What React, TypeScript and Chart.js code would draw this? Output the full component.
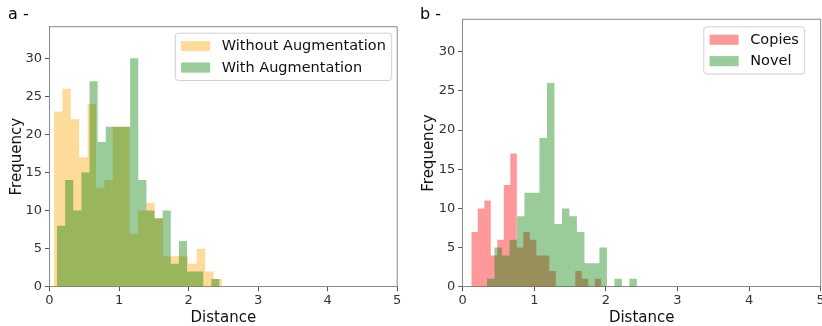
import React, { useEffect, useRef } from 'react';
import { Chart, registerables } from 'chart.js';

Chart.register(...registerables);
Chart.defaults.font.family = '"DejaVu Sans", sans-serif';

// ---------------- data ----------------
const distanceTicks = [0, 1, 2, 3, 4, 5];
const frequencyTicks = [0, 5, 10, 15, 20, 25, 30];

// Panel a
const withoutAugLabel = 'Without Augmentation';
const withoutAugBinStart = 0.065;
const withoutAugBinWidth = 0.1207;
const withoutAugCounts = [23, 26, 22, 17, 24, 13, 14, 21, 21, 7, 10, 11, 9, 4, 4, 4, 3, 5, 2, 1];

const withAugLabel = 'With Augmentation';
const withAugBinStart = 0.108;
const withAugBinWidth = 0.11685;
const withAugCounts = [8, 14, 10, 15, 27, 19, 21, 21, 21, 30, 14, 10, 9, 10, 3, 6, 2, 2, 0, 1];

// Panel b
const copiesLabel = 'Copies';
const copiesBinStart = 0.12;
const copiesBinWidth = 0.0908;
const copiesCounts = [7, 10, 11, 4, 6, 13, 17, 5, 7, 6, 4, 4, 2, 0, 0, 0, 2, 1, 0, 1];

const novelLabel = 'Novel';
const novelBinStart = 0.339;
const novelBinWidth = 0.1047;
const novelCounts = [1, 5, 4, 6, 9, 12, 12, 19, 26, 8, 10, 9, 7, 3, 3, 5, 0, 1, 0, 1];

// ---------------- helpers ----------------
function stepPoints(start: number, width: number, counts: number[]) {
  const pts = counts.map((c, i) => ({ x: start + i * width, y: c }));
  pts.push({ x: start + counts.length * width, y: counts[counts.length - 1] });
  return pts;
}

const decorPlugin = {
  id: 'decor',
  afterDraw(chart: any, _args: any, opts: any) {
    const { ctx, chartArea: a } = chart;
    ctx.save();
    // top & right spines
    ctx.strokeStyle = '#8a8a8a';
    ctx.lineWidth = 1;
    ctx.beginPath();
    ctx.moveTo(a.left, a.top);
    ctx.lineTo(a.right, a.top);
    ctx.lineTo(a.right, a.bottom);
    ctx.stroke();

    // panel tag
    ctx.fillStyle = '#000';
    ctx.font = '16px "DejaVu Sans"';
    ctx.textAlign = 'left';
    ctx.textBaseline = 'alphabetic';
    ctx.fillText(opts.tag, opts.tagX, opts.tagY);

    // legend (matplotlib style)
    const fs = opts.legendFont;
    ctx.font = `${fs}px "DejaVu Sans"`;
    const ds = chart.data.datasets;
    const pad = 0.4 * fs;
    const handleLen = 2 * fs;
    const handleH = 0.7 * fs;
    const textPad = 0.8 * fs;
    const rowH = fs * 0.98;
    const spacing = 0.5 * fs;
    let maxW = 0;
    ds.forEach((d: any) => {
      maxW = Math.max(maxW, ctx.measureText(d.label).width);
    });
    const w = 2 * pad + handleLen + textPad + maxW;
    const h = 2 * pad + ds.length * rowH + (ds.length - 1) * spacing;
    const x0 = a.right - opts.legendInsetX - w;
    const y0 = a.top + opts.legendInsetY;
    const r = 3;
    ctx.beginPath();
    ctx.moveTo(x0 + r, y0);
    ctx.lineTo(x0 + w - r, y0);
    ctx.quadraticCurveTo(x0 + w, y0, x0 + w, y0 + r);
    ctx.lineTo(x0 + w, y0 + h - r);
    ctx.quadraticCurveTo(x0 + w, y0 + h, x0 + w - r, y0 + h);
    ctx.lineTo(x0 + r, y0 + h);
    ctx.quadraticCurveTo(x0, y0 + h, x0, y0 + h - r);
    ctx.lineTo(x0, y0 + r);
    ctx.quadraticCurveTo(x0, y0, x0 + r, y0);
    ctx.closePath();
    ctx.fillStyle = 'rgba(255,255,255,0.8)';
    ctx.fill();
    ctx.strokeStyle = '#d0d0d0';
    ctx.stroke();
    ds.forEach((d: any, i: number) => {
      const cy = y0 + pad + rowH / 2 + i * (rowH + spacing);
      ctx.fillStyle = d.backgroundColor;
      ctx.fillRect(x0 + pad, cy - handleH / 2, handleLen, handleH);
      ctx.fillStyle = '#111';
      ctx.textBaseline = 'middle';
      ctx.fillText(d.label, x0 + pad + handleLen + textPad, cy + 0.5);
    });
    ctx.restore();
  },
};

type Hist = { label: string; start: number; width: number; counts: number[]; color: string; order: number };
type Panel = {
  tag: string;
  tagX: number;
  tagY: number;
  hists: Hist[];
  width: number;
  height: number;
  area: { left: number; right: number; top: number; bottom: number };
  yMax: number;
  yTitlePad: number;
  legendInsetX: number;
  legendInsetY: number;
};

function buildConfig(p: Panel): any {
  return {
    type: 'line',
    data: {
      datasets: p.hists.map((h) => ({
        label: h.label,
        data: stepPoints(h.start, h.width, h.counts),
        stepped: 'before',
        fill: 'origin',
        backgroundColor: h.color,
        borderColor: 'rgba(0,0,0,0)',
        borderWidth: 0,
        pointRadius: 0,
        pointHoverRadius: 0,
        order: h.order,
      })),
    },
    options: {
      animation: false,
      responsive: false,
      events: [],
      layout: {
        padding: { left: 0, top: p.area.top, right: p.width - p.area.right, bottom: 0 },
      },
      plugins: {
        legend: { display: false },
        tooltip: { enabled: false },
        title: { display: false },
        decor: {
          tag: p.tag,
          tagX: p.tagX,
          tagY: p.tagY,
          legendFont: 14.5,
          legendInsetX: p.legendInsetX,
          legendInsetY: p.legendInsetY,
        },
      },
      scales: {
        x: {
          type: 'linear',
          min: 0,
          max: 5,
          afterBuildTicks: (s: any) => {
            s.ticks = distanceTicks.map((v) => ({ value: v }));
          },
          afterFit: (s: any) => {
            s.height = p.height - p.area.bottom;
            s.paddingLeft = 0;
            s.paddingRight = 0;
          },
          grid: { display: true, drawOnChartArea: false, drawTicks: true, tickLength: 4.5, color: '#555', lineWidth: 1 },
          border: { display: true, color: '#8a8a8a', width: 1 },
          ticks: { font: { size: 13 }, color: '#333', padding: 2, autoSkip: false, maxRotation: 0 },
          title: { display: true, text: 'Distance', color: '#111', font: { size: 15, lineHeight: 1 }, padding: { top: 0, bottom: 0 } },
        },
        y: {
          type: 'linear',
          min: 0,
          max: p.yMax,
          afterBuildTicks: (s: any) => {
            s.ticks = frequencyTicks.map((v) => ({ value: v }));
          },
          afterFit: (s: any) => {
            s.width = p.area.left;
            s.paddingTop = 0;
            s.paddingBottom = 0;
          },
          grid: { display: true, drawOnChartArea: false, drawTicks: true, tickLength: 4.5, color: '#555', lineWidth: 1 },
          border: { display: true, color: '#8a8a8a', width: 1 },
          ticks: { font: { size: 13 }, color: '#333', padding: 3, autoSkip: false },
          title: { display: true, text: 'Frequency', color: '#111', font: { size: 15, lineHeight: 1 }, padding: { top: p.yTitlePad, bottom: 0 } },
        },
      },
    },
    plugins: [decorPlugin],
  };
}

const orange = 'rgba(255,165,0,0.4)';
const green = 'rgba(0,128,0,0.4)';
const red = 'rgba(255,0,0,0.4)';

const panelA: Panel = {
  tag: 'a -',
  tagX: 8,
  tagY: 18.5,
  hists: [
    { label: withoutAugLabel, start: withoutAugBinStart, width: withoutAugBinWidth, counts: withoutAugCounts, color: orange, order: 1 },
    { label: withAugLabel, start: withAugBinStart, width: withAugBinWidth, counts: withAugCounts, color: green, order: 0 },
  ],
  width: 411,
  height: 326,
  area: { left: 49.5, right: 397.2, top: 26.7, bottom: 286.7 },
  yMax: 34.15,
  yTitlePad: 10,
  legendInsetX: 5.5,
  legendInsetY: 6.5,
};

const panelB: Panel = {
  tag: 'b -',
  tagX: 9,
  tagY: 18.5,
  hists: [
    { label: copiesLabel, start: copiesBinStart, width: copiesBinWidth, counts: copiesCounts, color: red, order: 1 },
    { label: novelLabel, start: novelBinStart, width: novelBinWidth, counts: novelCounts, color: green, order: 0 },
  ],
  width: 411,
  height: 326,
  area: { left: 51.7, right: 409.7, top: 19.3, bottom: 286.7 },
  yMax: 34.15,
  yTitlePad: 10.5,
  legendInsetX: 16,
  legendInsetY: 7.5,
};

function HistPanel({ panel, left }: { panel: Panel; left: number }) {
  const ref = useRef<HTMLCanvasElement | null>(null);
  useEffect(() => {
    if (!ref.current) return;
    const chart = new Chart(ref.current, buildConfig(panel));
    return () => chart.destroy();
  }, [panel]);
  return (
    <canvas
      ref={ref}
      width={panel.width}
      height={panel.height}
      style={{ position: 'absolute', left, top: 0, width: panel.width, height: panel.height }}
    />
  );
}

export default function App() {
  return (
    <div style={{ position: 'fixed', left: 0, top: 0, width: 822, height: 326, background: '#fff', overflow: 'hidden' }}>
      <HistPanel panel={panelA} left={0} />
      <HistPanel panel={panelB} left={411} />
    </div>
  );
}
